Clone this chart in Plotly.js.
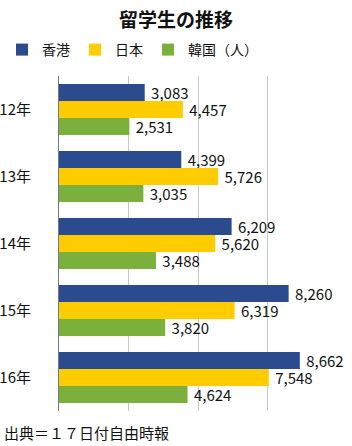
<!DOCTYPE html>
<html>
<head>
<meta charset="utf-8">
<script src="https://cdn.plot.ly/plotly-3.0.1.min.js"></script>
<style>html,body{margin:0;padding:0;background:#fff;}#chart{width:352px;height:446px;}</style>
</head>
<body>
<div id="chart"></div>
<script>
const years = ["12年", "13年", "14年", "15年", "16年"];
const hongKong = [3083, 4399, 6209, 8260, 8662];
const japan = [4457, 5726, 5620, 6319, 7548];
const korea = [2531, 3035, 3488, 3820, 4624];
const seriesNames = ["香港", "日本", "韓国（人）"];
const seriesColors = ["#2C4A8E", "#FFCC00", "#7CB03C"];
const titleText = "留学生の推移";
const sourceText = "出典＝１７日付自由時報";

const FONT = "'Noto Sans CJK JP', 'Noto Sans', sans-serif";
const fmt = v => "\u00a0" + v.toLocaleString("en-US");

const traces = [hongKong, japan, korea].map((vals, i) => ({
  type: "bar",
  orientation: "h",
  name: seriesNames[i],
  y: years,
  x: vals,
  marker: {color: seriesColors[i]},
  text: vals.map(fmt),
  textposition: "outside",
  constraintext: "none",
  cliponaxis: false,
  textfont: {family: FONT, size: 15, color: "#111"},
  hoverinfo: "none"
}));

const layout = {
  width: 352, height: 446,
  margin: {l: 59, r: 15, t: 76, b: 35, autoexpand: false},
  paper_bgcolor: "#fff", plot_bgcolor: "#fff",
  font: {family: FONT, color: "#111"},
  title: {text: "<b>" + titleText + "</b>", font: {family: FONT, size: 19, color: "#111"}, x: 0.5, xanchor: "center", y: 0.955, yanchor: "middle"},
  barmode: "group",
  bargap: 0.24,
  bargroupgap: 0,
  showlegend: true,
  legend: {orientation: "h", xref: "container", yref: "container", x: 2 / 352, xanchor: "left", y: 1 - 50 / 446, yanchor: "middle", font: {family: FONT, size: 14, color: "#111"}, traceorder: "normal"},
  xaxis: {range: [0, 10000], dtick: 2500, showticklabels: false, showgrid: true, gridcolor: "#c8c8c8", gridwidth: 1, zeroline: false, ticks: "", automargin: false},
  yaxis: {autorange: "reversed", showline: true, linecolor: "#6b7a8f", linewidth: 1, ticks: "", automargin: false, tickfont: {family: FONT, size: 15, color: "#111"}, ticklabelstandoff: 24},
  annotations: [{text: sourceText, xref: "paper", yref: "paper", x: -57 / 278, xanchor: "left", y: -21 / 335, yanchor: "middle", showarrow: false, font: {family: FONT, size: 15, color: "#111"}}]
};

Plotly.newPlot("chart", traces, layout, {displayModeBar: false, staticPlot: true});
</script>
</body>
</html>
